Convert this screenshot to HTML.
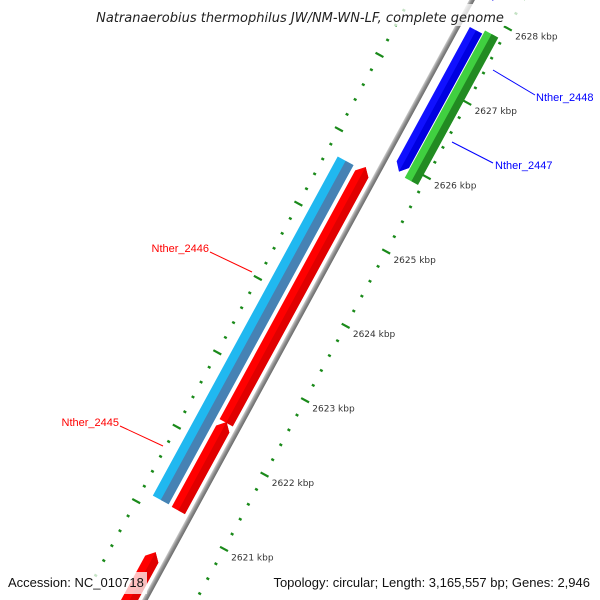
<!DOCTYPE html>
<html><head><meta charset="utf-8"><style>
html,body{margin:0;padding:0;background:#fff;width:600px;height:600px;overflow:hidden;position:relative}
svg{display:block}
text{font-family:"Liberation Sans","DejaVu Sans",sans-serif}
</style></head><body>
<svg id="map" width="600" height="600" viewBox="0 0 600 600" xmlns="http://www.w3.org/2000/svg" style="position:absolute;left:0;top:0">
<defs>
<linearGradient id="bbg" x1="0" y1="0" x2="0" y2="1"><stop offset="0" stop-color="#d0d0d0"/><stop offset="0.5" stop-color="#8c8c8c"/><stop offset="1" stop-color="#6a6a6a"/></linearGradient>
</defs>
<g id="frame" transform="translate(184.5,527.4) rotate(-61.4)"></g>
<g id="overlay"></g>
</svg>
<script>
const tickStartKbp = 2620, tickEndKbp = 2629.2;
const majorTicks = [2621,2622,2623,2624,2625,2626,2627,2628];
const geneNames = ["Nther_2444","Nther_2445a","Nther_2445b","Nther_2446","Nther_2447","Nther_2448","Nther_2449"];
const geneStart = [2619.5,2621.14,2622.32,2621.15,2625.87,2625.9,2628.2];
const geneEnd   = [2620.58,2622.33,2625.76,2625.71,2627.85,2627.8,2629.5];
const geneTrack = ["rev","rev","rev","rev2","fwd2","fwd","fwd"];
const geneArrow = ["end","end","end","none","none","start","start"];
const geneLabels = ["Nther_2448","Nther_2447","Nther_2446","Nther_2445"];
const geneLabelColor = ["#0000ff","#0000ff","#ff0000","#ff0000"];

const NS="http://www.w3.org/2000/svg";
const O=[184.5,527.4], U=[0.479,-0.878], N=[0.878,0.479], PX=84.7, K0=2621;
const xk=k=>(k-K0)*PX;
const screen=(k,t)=>[O[0]+xk(k)*U[0]+t*N[0], O[1]+xk(k)*U[1]+t*N[1]];
const frame=document.getElementById('frame'), overlay=document.getElementById('overlay');
function mk(tag,attrs,parent){const e=document.createElementNS(NS,tag);for(const a in attrs)e.setAttribute(a,attrs[a]);parent.appendChild(e);return e;}

const bb=mk('rect',{x:xk(2619),y:-2.5,width:xk(2630)-xk(2619),height:5,fill:'url(#bbg)'},frame);



const tracks={rev:[-21,-6,'#ff0000','#e00000'],rev2:[-43,-25,'#20b8f0','#4682b4'],fwd:[11,25,'#1010ff','#0000e0'],fwd2:[26,41,'#40d040','#228b22']};
geneStart.forEach((s,i)=>{
  const tr=tracks[geneTrack[i]], t1=tr[0], t2=tr[1], tm=(t1+t2)/2;
  const x1=xk(s), x2=xk(geneEnd[i]), a=8;
  let pts;
  if(geneArrow[i]==='end') pts=[[x1,t1],[x2-a,t1],[x2,tm],[x2-a,t2],[x1,t2]];
  else if(geneArrow[i]==='start') pts=[[x1+a,t1],[x2,t1],[x2,t2],[x1+a,t2],[x1,tm]];
  else pts=[[x1,t1],[x2,t1],[x2,t2],[x1,t2]];
  const g=mk('g',{},frame);
  
  
  mk('polygon',{points:pts.map(p=>p.join(',')).join(' '),fill:tr[2]},g);
  const half=pts.map(p=>[p[0],Math.max(p[1],tm)]);
  mk('polygon',{points:half.map(p=>p.join(',')).join(' '),fill:tr[3]},g);
});

for(let k=Math.round(tickStartKbp*5);k<=tickEndKbp*5;k++){
  const kb=k/5, major=k%5===0&&majorTicks.includes(kb);
  [45,-55].forEach(t=>{
    const l=major?4.5:1.5;
    const tk=mk('line',{x1:xk(kb),x2:xk(kb),y1:t-l,y2:t+l,stroke:'#1a8a1a','stroke-width':major?2.2:2.4},frame);
    
    
  });
}
majorTicks.forEach(k=>{
  const p=screen(k,52);
  const tx=mk('text',{x:p[0]+1,y:p[1]+8,'font-size':9,fill:'#333',style:'font-family:"DejaVu Sans",sans-serif'},overlay);
  tx.textContent=k+' kbp';
  
  
});

const lbl=[[493,70,535,95,536,101,'start'],[452,142,493,163,495,169,'start'],[252,272,210,252,209,252,'end'],[163,446,120,426,119,426,'end']];
geneLabels.forEach((n,i)=>{
  const L=lbl[i];
  const ln=mk('line',{x1:L[0],y1:L[1],x2:L[2],y2:L[3],stroke:geneLabelColor[i],'stroke-width':1},overlay);
  
  
  const t=mk('text',{x:L[4],y:L[5],'font-size':11,fill:geneLabelColor[i],'text-anchor':L[6]},overlay);
  t.textContent=n;
  
  
});
</script>
<svg width="600" height="600" style="position:absolute;left:0;top:0" xmlns="http://www.w3.org/2000/svg">
<rect x="80" y="4" width="442" height="22" fill="rgba(255,255,255,0.75)"/>
<text x="300" y="22" font-size="13" font-style="italic" text-anchor="middle" fill="#222" style="font-family:'DejaVu Sans',sans-serif">Natranaerobius thermophilus JW/NM-WN-LF, complete genome</text>
<rect x="4" y="572" width="143" height="22" fill="rgba(255,255,255,0.75)"/>
<text x="8" y="587" font-size="13" fill="#111">Accession: NC_010718</text>
<rect x="256" y="572" width="340" height="22" fill="rgba(255,255,255,0.75)"/>
<text x="590" y="587" font-size="13" text-anchor="end" fill="#111">Topology: circular; Length: 3,165,557 bp; Genes: 2,946</text>
</svg>
</body></html>
